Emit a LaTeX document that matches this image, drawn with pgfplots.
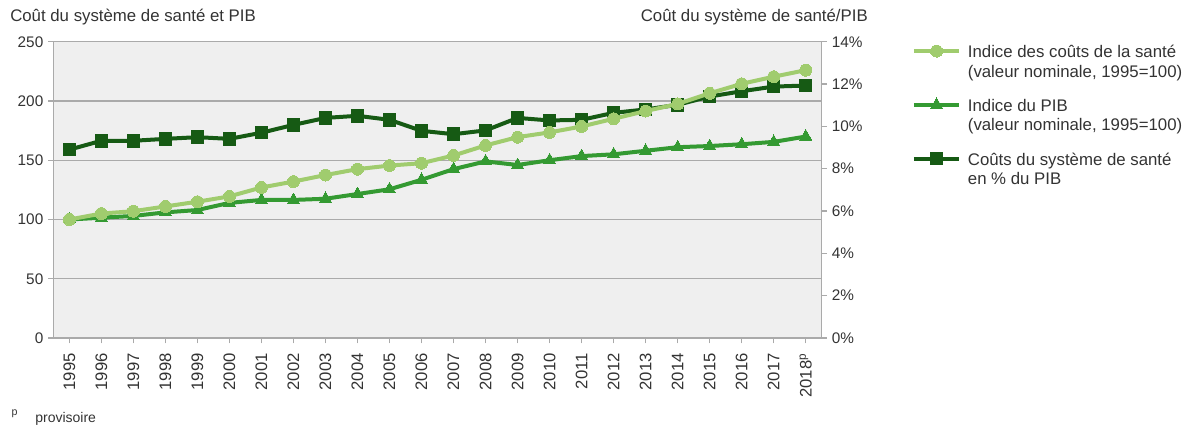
\documentclass[border=0pt]{standalone}
\usepackage{fontspec}
\setmainfont{Liberation Sans}
\usepackage{pgfplots}
\pgfplotsset{compat=1.18}
\definecolor{lightg}{RGB}{160,204,110}
\definecolor{midg}{RGB}{52,154,50}
\definecolor{darkg}{RGB}{22,90,20}
\definecolor{bgc}{RGB}{239,239,239}
\definecolor{gridc}{RGB}{170,170,170}
\definecolor{txt}{RGB}{51,51,51}
\newcommand\bigf{\fontsize{12.6}{14.6}\selectfont}
\pgfplotsset{
  base/.style={
    scale only axis, width=576.3pt, height=222.2pt,
    xmin=1994.5, xmax=2018.5,
    font=\fontsize{11.5}{14}\selectfont, 
    /pgf/number format/assume math mode=true,
    /pgf/number format/1000 sep={},
    tick label style={txt},
    axis line style={gridc, line width=1.1pt},
    tick style={gridc, line width=1pt},
    major tick length=4pt, tick align=outside,
  },
  sLight/.style={lightg, line width=3pt, mark=*, mark size=4.5pt, mark options={fill=lightg, draw=lightg, line width=0pt}},
  sMid/.style={midg, line width=3pt, mark=triangle*, mark size=5.2pt, mark options={fill=midg, draw=midg, line width=0pt}},
  sDark/.style={darkg, line width=3pt, mark=square*, mark size=4.7pt, mark options={fill=darkg, draw=darkg, line width=0pt}},
}
\begin{document}
\begin{tikzpicture}
\path[use as bounding box] (-40pt,-68.25pt) rectangle (860pt,253.5pt);
% axis 1: background, grid, left and bottom ticks
\begin{axis}[base,
  ymin=0, ymax=250, ytick={0,50,...,250},
  ymajorgrids, grid style={gridc, line width=1.1pt},
  axis background/.style={fill=bgc},
  xtick={1995,...,2018},
  xticklabels={1995,1996,1997,1998,1999,2000,2001,2002,2003,2004,2005,2006,2007,2008,2009,2010,2011,2012,2013,2014,2015,2016,2017,2018\textsuperscript{p}},
  x tick label style={rotate=90, anchor=east, font=\fontsize{12.5}{14}\selectfont},
  xticklabel shift=4pt,
  ytick pos=left, xtick pos=lower,
]
\addplot[draw=none, forget plot] coordinates {(1995,0)};
\end{axis}
% axis 2: right scale, dark series
\begin{axis}[base,
  axis y line*=right, axis x line=none,
  ymin=0, ymax=14, ytick={0,2,...,14},
  yticklabel={\pgfmathprintnumber{\tick}\%},
]
\addplot[sDark] coordinates {
(1995,8.90) (1996,9.32) (1997,9.32) (1998,9.41) (1999,9.49) (2000,9.41)
(2001,9.70) (2002,10.07) (2003,10.40) (2004,10.50) (2005,10.31) (2006,9.79)
(2007,9.63) (2008,9.81) (2009,10.40) (2010,10.28) (2011,10.31) (2012,10.64)
(2013,10.80) (2014,11.02) (2015,11.41) (2016,11.66) (2017,11.88) (2018,11.93)};
\end{axis}
% axis 3: left scale, index series + legend
\begin{axis}[base,
  hide axis,
  ymin=0, ymax=250,
  legend style={at={(1.117,0.998)}, anchor=north west, draw=none, fill=none,
    inner sep=0pt, row sep=11pt, column sep=3pt, text=txt, font=\bigf,
    cells={anchor=west, align=left}},
  legend image code/.code={\draw[#1, mark repeat=2, mark phase=2, yshift=8.3pt] plot coordinates {(0pt,0pt) (17pt,0pt) (34pt,0pt)};},
]
\addlegendimage{sLight}
\addlegendentry{Indice des coûts de la santé\\(valeur nominale, 1995=100)}
\addlegendimage{sMid}
\addlegendentry{Indice du PIB\\(valeur nominale, 1995=100)}
\addlegendimage{sDark}
\addlegendentry{Coûts du système de santé\\en \% du PIB}
\addplot[sMid, forget plot] coordinates {
(1995,100) (1996,101.5) (1997,103) (1998,106) (1999,108) (2000,114)
(2001,116.5) (2002,116.5) (2003,117.5) (2004,121.5) (2005,125.5) (2006,133.5)
(2007,142.5) (2008,149) (2009,146) (2010,150) (2011,153.5) (2012,155)
(2013,158) (2014,161) (2015,162) (2016,163.5) (2017,165.5) (2018,170)};
\addplot[sLight, forget plot] coordinates {
(1995,100) (1996,105) (1997,107) (1998,111) (1999,115) (2000,119.5)
(2001,127) (2002,132) (2003,137.5) (2004,142.5) (2005,145.5) (2006,147.5)
(2007,154) (2008,162.5) (2009,169.5) (2010,173.5) (2011,178.5) (2012,185)
(2013,191.5) (2014,197.5) (2015,206.5) (2016,214.5) (2017,220.5) (2018,226)};
\end{axis}
\node[anchor=base west, inner sep=0pt, text=txt, font=\bigf] at (-32.5pt,237pt) {Coût du système de santé et PIB};
\node[anchor=base east, inner sep=0pt, text=txt, font=\bigf] at (611pt,237pt) {Coût du système de santé/PIB};
\node[anchor=base west, inner sep=0pt, text=txt, font=\fontsize{8}{10}\selectfont] at (-31.5pt,-58pt) {p};
\node[anchor=base west, inner sep=0pt, text=txt, font=\fontsize{10.5}{12}\selectfont] at (-13.7pt,-63.5pt) {provisoire};
\end{tikzpicture}
\end{document}
